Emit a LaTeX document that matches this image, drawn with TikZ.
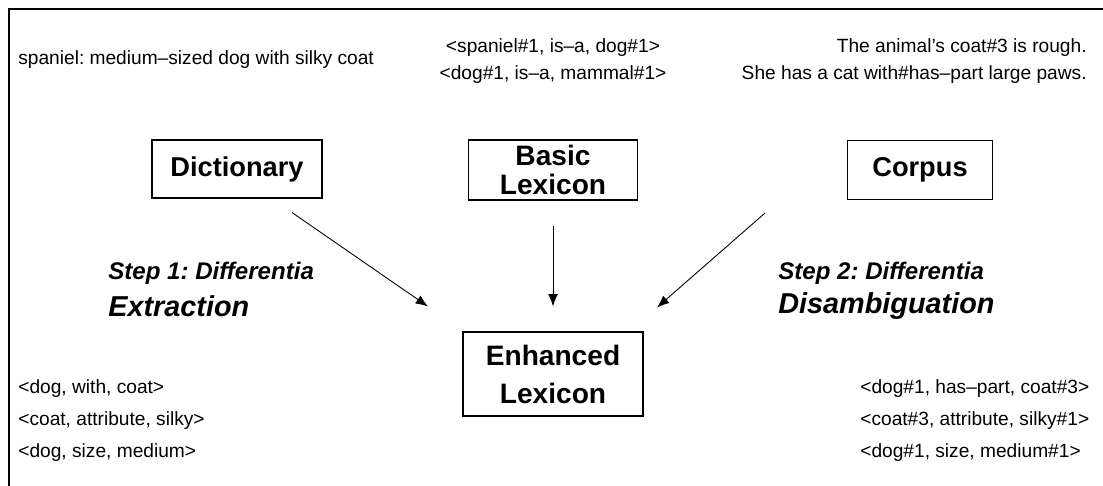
\documentclass[tikz,border=0pt]{standalone}
\usepackage{fontspec}
\setmainfont{Liberation Sans}
\usetikzlibrary{arrows.meta,calc}
\frenchspacing

\begin{document}
\begin{tikzpicture}[x=0.02cm,y=-0.02cm,
  txt/.style={font=\fontsize{10.9}{15.4}\selectfont, inner sep=0pt},
  srcbox/.style={draw, line width=0.6pt, align=center, inner sep=0pt,
    font=\fontsize{15.5}{14}\selectfont\bfseries},
  steplbl/.style={anchor=west, inner sep=0pt,
    font=\fontsize{13.7}{16}\selectfont\bfseries\itshape},
  stepbig/.style={anchor=west, inner sep=0pt,
    font=\fontsize{16.4}{18}\selectfont\bfseries\itshape},
  flow/.style={-{Latex[length=7pt,width=5.5pt]}, line width=0.5pt}]

\useasboundingbox (0,0) rectangle (1103,485);

% outer frame, only top and left edges are seen
\begin{scope}
\clip (0,0) rectangle (1103,485);
\draw [line width=1.6pt] (9,9) rectangle (1130,510);
\end{scope}

% inputs
\node[txt, anchor=west] (defn) at (18,60) {spaniel: medium–sized dog with silky coat};
\node[txt, align=center] (isa) at (553,61) {<spaniel\#1, is–a, dog\#1>\\<dog\#1, is–a, mammal\#1>};
\node[txt, align=right, anchor=east] (sents) at (1087,61) {The animal’s coat\#3 is rough.\\She has a cat with\#has–part large paws.};

\node[srcbox, minimum width=3.4cm, minimum height=1.16cm] (dict) at (237,169) {Dictionary};
\node[srcbox, minimum width=3.38cm, minimum height=1.2cm,
  font=\fontsize{16}{16.5}\selectfont\bfseries] (basic) at (553,170) {Basic\\Lexicon};
\node[srcbox, minimum width=2.9cm, minimum height=1.18cm] (corpus) at (920,170) {Corpus};

\node[srcbox, minimum width=3.6cm, minimum height=1.68cm,
  font=\fontsize{16}{21.6}\selectfont\bfseries] (enh) at (553,374) {Enhanced\\Lexicon};

\draw[flow] ($(dict.south)+(55,14)$) -- ($(enh.north)+(-125,-25)$);
\draw[flow] ($(basic.south)+(0,25)$) -- ($(enh.north)+(0,-25)$);
\draw[flow] ($(corpus.south)+(-155,13)$) -- ($(enh.north)+(104,-24)$);

% steps
\node[steplbl] (step1) at (108,273) {Step 1: Differentia};
\node[stepbig] (extr) at (108,306) {Extraction};
\node[steplbl] (step2) at (778,273) {Step 2: Differentia};
\node[stepbig] (disamb) at (778,306) {Disambiguation};

% outputs
\node[txt, anchor=west] (raw1) at (18,389) {<dog, with, coat>};
\node[txt, anchor=west] (raw2) at (18,421) {<coat, attribute, silky>};
\node[txt, anchor=west] (raw3) at (18,453) {<dog, size, medium>};

\node[txt, anchor=west] (sense1) at (860,389) {<dog\#1, has–part, coat\#3>};
\node[txt, anchor=west] (sense2) at (860,421) {<coat\#3, attribute, silky\#1>};
\node[txt, anchor=west] (sense3) at (860,453) {<dog\#1, size, medium\#1>};
\end{tikzpicture}
\end{document}
